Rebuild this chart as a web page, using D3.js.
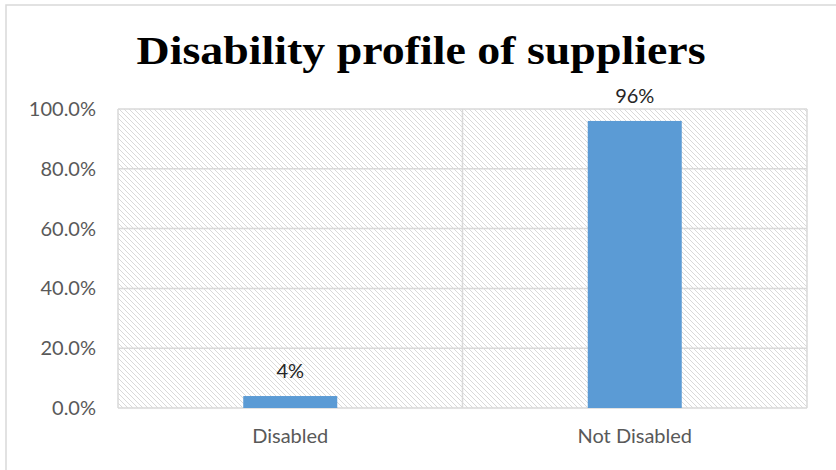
<!DOCTYPE html>
<html>
<head>
<meta charset="utf-8">
<script src="https://cdn.jsdelivr.net/npm/d3@7/dist/d3.min.js"></script>
<style>
  html, body { margin: 0; padding: 0; background: #ffffff; }
  svg { display: block; }
</style>
</head>
<body>
<svg id="chart" width="836" height="470"></svg>
<script>
// Chart data
const categories = ["Disabled", "Not Disabled"];
const shares = [0.04, 0.96];
const shareLabels = ["4%", "96%"];
const yTicks = [0, 0.2, 0.4, 0.6, 0.8, 1.0];
const titleText = "Disability profile of suppliers";

const W = 836, H = 470;
const plot = { left: 118, right: 807, top: 109, bottom: 408 };
const svg = d3.select("#chart");

// Diagonal hatch for the plot background
const defs = svg.append("defs");
const pat = defs.append("pattern")
  .attr("id", "hatch")
  .attr("patternUnits", "userSpaceOnUse")
  .attr("width", 5).attr("height", 5);
pat.append("path")
  .attr("d", "M-1,-1 L6,6 M-1,4 L1,6 M4,-1 L6,1")
  .attr("stroke", "#d9d9d9")
  .attr("stroke-width", 1);

// Outer chart border
svg.append("rect")
  .attr("x", 6).attr("y", 5)
  .attr("width", W).attr("height", H)
  .attr("fill", "#ffffff")
  .attr("stroke", "#d9d9d9")
  .attr("stroke-width", 1.5);

const x = d3.scaleBand()
  .domain(categories)
  .range([plot.left, plot.right])
  .paddingInner(0)
  .paddingOuter(0);

const y = d3.scaleLinear()
  .domain([0, 1])
  .range([plot.bottom, plot.top]);

// Plot area fill
svg.append("rect")
  .attr("x", plot.left).attr("y", plot.top)
  .attr("width", plot.right - plot.left)
  .attr("height", plot.bottom - plot.top)
  .attr("fill", "url(#hatch)");

// Horizontal gridlines
svg.append("g")
  .selectAll("line")
  .data(yTicks)
  .join("line")
  .attr("x1", plot.left).attr("x2", plot.right)
  .attr("y1", d => y(d)).attr("y2", d => y(d))
  .attr("stroke", "#d9d9d9")
  .attr("stroke-width", 1.5);

// Vertical gridlines at category boundaries
const bounds = [plot.left, ...categories.map(c => x(c) + x.bandwidth())];
svg.append("g")
  .selectAll("line")
  .data(bounds)
  .join("line")
  .attr("x1", d => d).attr("x2", d => d)
  .attr("y1", plot.top).attr("y2", plot.bottom)
  .attr("stroke", "#d9d9d9")
  .attr("stroke-width", 1.5);

// Y axis labels
const yAxis = d3.axisLeft(y)
  .tickValues(yTicks)
  .tickFormat(d3.format(".1%"))
  .tickSize(0)
  .tickPadding(22);
const gy = svg.append("g")
  .attr("transform", `translate(${plot.left},0)`)
  .call(yAxis);
gy.select(".domain").remove();
gy.selectAll("text")
  .attr("font-family", "Lato, 'Open Sans', sans-serif")
  .attr("font-size", 20)
  .attr("fill", "#595959");

// X axis labels
const xAxis = d3.axisBottom(x).tickSize(0).tickPadding(21);
const gx = svg.append("g")
  .attr("transform", `translate(0,${plot.bottom})`)
  .call(xAxis);
gx.select(".domain").remove();
gx.selectAll("text")
  .attr("font-family", "Lato, 'Open Sans', sans-serif")
  .attr("font-size", 20)
  .attr("fill", "#595959");

// Bars
const barW = 94;
svg.append("g")
  .selectAll("rect")
  .data(categories)
  .join("rect")
  .attr("x", d => x(d) + x.bandwidth() / 2 - barW / 2)
  .attr("y", (d, i) => y(shares[i]))
  .attr("width", barW)
  .attr("height", (d, i) => y(0) - y(shares[i]))
  .attr("fill", "#5b9bd5");

// Value labels
svg.append("g")
  .selectAll("text")
  .data(categories)
  .join("text")
  .attr("x", d => x(d) + x.bandwidth() / 2)
  .attr("y", (d, i) => y(shares[i]) - 18)
  .attr("text-anchor", "middle")
  .attr("font-family", "Lato, 'Open Sans', sans-serif")
  .attr("font-size", 20)
  .attr("fill", "#262626")
  .text((d, i) => shareLabels[i]);

// Title
svg.append("text")
  .attr("x", 421)
  .attr("y", 64)
  .attr("text-anchor", "middle")
  .attr("font-family", "'Liberation Serif', 'DejaVu Serif', serif")
  .attr("font-weight", "bold")
  .attr("font-size", 39)
  .attr("textLength", 569)
  .attr("lengthAdjust", "spacingAndGlyphs")
  .attr("fill", "#000000")
  .text(titleText);
</script>
</body>
</html>
